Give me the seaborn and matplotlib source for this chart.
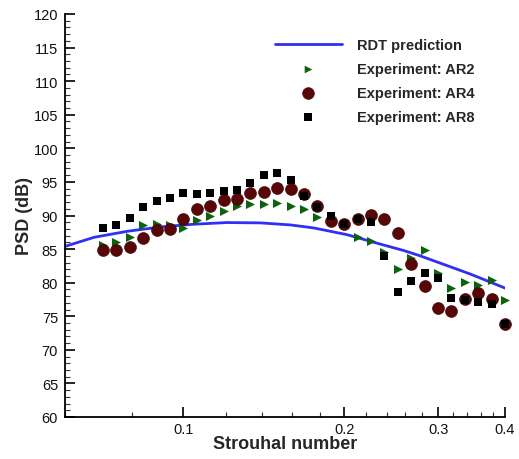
import matplotlib
matplotlib.use("Agg")
import matplotlib.pyplot as plt
import seaborn as sns
import pandas as pd
from matplotlib.ticker import FixedLocator, NullFormatter, FixedFormatter

# ---- data ----
strouhal = [0.0707, 0.0749, 0.0794, 0.0841, 0.0891, 0.0944, 0.1, 0.106, 0.1122,
            0.1189, 0.126, 0.1335, 0.1414, 0.1498, 0.1587, 0.1682, 0.1782, 0.1888,
            0.2, 0.2119, 0.2245, 0.2378, 0.252, 0.267, 0.2828, 0.2997, 0.3175,
            0.3364, 0.3564, 0.3775, 0.4]

ar2 = [85.6, 86.05, 86.85, 88.6, 88.75, 88.55, 88.2, 89.35, 89.95, 90.7, 91.45,
       91.65, 91.7, 91.8, 91.4, 90.9, 89.85, 89.4, 88.8, 86.75, 86.25, 84.5, 82.1,
       83.6, 84.8, 81.5, 79.2, 80.05, 79.65, 80.4, 77.4]

ar4 = [84.8, 84.9, 85.3, 86.65, 87.85, 88.0, 89.5, 90.9, 91.4, 92.3, 92.5, 93.35,
       93.55, 94.1, 94.0, 93.25, 91.45, 89.2, 88.7, 89.5, 90.1, 89.5, 87.45, 82.75,
       79.5, 76.25, 75.75, 77.5, 78.5, 77.55, 73.85]

ar8 = [88.1, 88.6, 89.7, 91.3, 92.1, 92.6, 93.35, 93.2, 93.3, 93.7, 93.8, 94.8,
       96.05, 96.35, 95.3, 92.85, 91.3, 89.9, 88.8, 89.5, 89.0, 83.9, 78.6, 80.2,
       81.45, 80.75, 77.7, 77.35, 77.1, 76.8, 73.8]

rdt_st = [0.06, 0.068, 0.0785, 0.0906, 0.1045, 0.1207, 0.1393, 0.1585, 0.1753,
          0.2023, 0.2334, 0.2581, 0.2773, 0.298, 0.344, 0.4]
rdt_db = [85.4, 86.75, 87.65, 88.3, 88.7, 88.95, 88.9, 88.6, 88.15,
          87.15, 85.75, 84.8, 84.0, 83.1, 81.3, 79.2]

x_major = [0.1, 0.2, 0.3, 0.4]
x_major_labels = ["0.1", "0.2", "0.3", "0.4"]
x_minor = [0.06, 0.08, 0.12, 0.14, 0.16, 0.18, 0.22, 0.24, 0.26, 0.28,
           0.32, 0.34, 0.36, 0.38]

sns.set_style("white")
plt.rcParams['font.family'] = ['Liberation Sans', 'DejaVu Sans']

fig = plt.figure(figsize=(5.19, 4.6), dpi=100)
ax = fig.add_axes([65 / 519, 1 - 418 / 460, 440 / 519, 403 / 460])

df_line = pd.DataFrame({"St": rdt_st, "PSD": rdt_db})
df_pts = pd.DataFrame({"St": strouhal, "AR2": ar2, "AR4": ar4, "AR8": ar8})

sns.lineplot(data=df_line, x="St", y="PSD", ax=ax, color="#2f2ff5", lw=2.0,
             label="RDT prediction", sort=False, zorder=2)
sns.scatterplot(data=df_pts, x="St", y="AR2", ax=ax, marker=">", s=42,
                color="#0a640a", linewidth=0, label="Experiment: AR2",
                clip_on=False, zorder=3)
sns.scatterplot(data=df_pts, x="St", y="AR4", ax=ax, marker="o", s=74,
                color="#5a0606", edgecolor="#3a0000", linewidth=0.4,
                label="Experiment: AR4", clip_on=False, zorder=4)
sns.scatterplot(data=df_pts, x="St", y="AR8", ax=ax, marker="s", s=36,
                color="black", linewidth=0, label="Experiment: AR8",
                clip_on=False, zorder=5)

ax.set_xscale("log")
ax.set_xlim(0.06, 0.4)
ax.set_ylim(60, 120)
ax.xaxis.set_major_locator(FixedLocator(x_major))
ax.xaxis.set_major_formatter(FixedFormatter(x_major_labels))
ax.xaxis.set_minor_locator(FixedLocator(x_minor))
ax.xaxis.set_minor_formatter(NullFormatter())
ax.set_yticks(range(60, 121, 5))
ax.set_yticks(range(60, 121, 1), minor=True)

for s in ["top", "right"]:
    ax.spines[s].set_visible(False)
for s in ["left", "bottom"]:
    ax.spines[s].set_color("black")
    ax.spines[s].set_linewidth(1.3)

ax.tick_params(which="major", direction="in", length=7, width=1.2,
               labelsize=10.5, color="black", labelcolor="#111111")
ax.tick_params(which="minor", direction="in", length=3.5, width=0.8,
               color="#333333")
ax.tick_params(axis="x", which="both", top=False, bottom=True, pad=3.5)
ax.tick_params(axis="y", which="both", left=True, right=False, pad=5)

ax.set_xlabel("Strouhal number", fontsize=13, fontweight="bold", labelpad=-0.5)
ax.set_ylabel("PSD (dB)", fontsize=13, fontweight="bold", labelpad=0)

leg = ax.legend(loc="upper left", bbox_to_anchor=(0.477, 0.94),
                frameon=False, borderaxespad=0, borderpad=0,
                handlelength=4.6, handletextpad=1.0, labelspacing=0.68,
                prop={"weight": "bold", "size": 10.5})
handles = leg.legend_handles
handles[1].set_sizes([30])
handles[2].set_sizes([72])
handles[3].set_sizes([26])

fig.savefig("out.png", dpi=100)
